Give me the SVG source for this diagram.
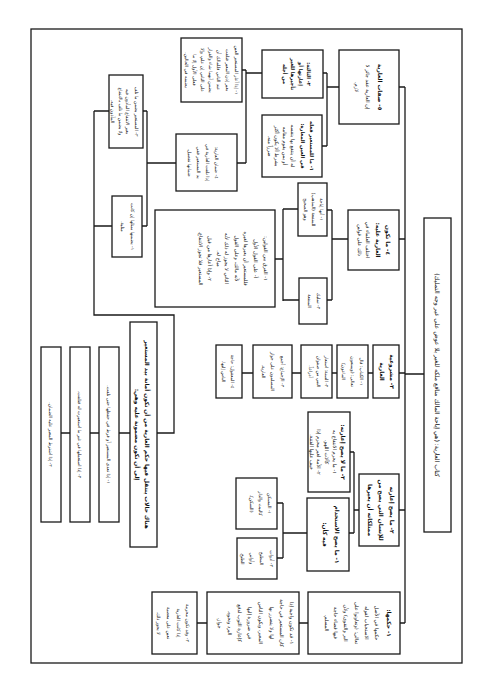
<svg xmlns="http://www.w3.org/2000/svg" width="491" height="694" viewBox="0 0 491 694">
<style>
.bx{fill:#fff;stroke:#1a1a1a;stroke-width:1.3}
.ln{fill:none;stroke:#1a1a1a;stroke-width:1.3}
text{font-family:"DejaVu Sans",sans-serif;font-size:5px;fill:#111;text-anchor:middle;dominant-baseline:central;direction:rtl}
.b{font-weight:bold;font-size:5.8px}
.ti{font-size:6.2px}
.s{font-size:4.6px}
.bs{font-weight:bold;font-size:5.1px}
</style>
<rect width="491" height="694" fill="#fff"/>
<rect x="31" y="29" width="431" height="634" fill="none" stroke="#1a1a1a" stroke-width="1.3"/>

<g id="connectors" class="ln">
<path d="M424 374H405M405 87V623M405 87H399M405 239H399M405 373H399M405 510H399M405 623H400"/>
<path d="M339 87H327M327 73V146M327 73H323M327 146H322"/>
<path d="M262 73H246M246 70V163M246 70H242M246 163H237"/>
<path d="M176 163H147M147 111V226M147 111H143M147 226H142"/>
<path d="M109 111H94M112 226H94M94 111V315H174V433H157"/>
<path d="M348 239H332M332 210V300M332 210H327M332 300H327"/>
<path d="M298 209H283M299 300H283M283 209V301M283 259H275"/>
<path d="M373 373H368M337 373H332M301 373H292M253 373H242"/>
<path d="M359 510H354M354 452V533M354 452H350M354 533H349"/>
<path d="M307 533H283M283 503V558M283 503H277M283 558H277"/>
<path d="M308 623H299M207 623H197"/>
<path d="M130 433H119M99 433H90M70 433H61"/>
</g>

<g id="title">
<rect class="bx" x="424" y="218" width="27" height="314"/>
<text class="ti" transform="translate(437.5 375) rotate(90)"><tspan x="0" y="0">كتاب العارية: (هي إباحة المالك منافع ملكه للغير بلا عوض على غير وجه التمليك)</tspan></text>
</g>

<g id="n5">
<rect class="bx" x="339" y="50" width="60" height="74"/>
<text transform="translate(369 87) rotate(90)"><tspan class="b" x="0" y="-11">٥- صفات العارية</tspan><tspan x="0" y="1">إن العارية عقد جائز لا</tspan><tspan x="0" y="12">لازم.</tspan></text>
</g>
<g id="n5a">
<rect class="bx" x="262" y="50" width="61" height="48"/>
<text class="bs" transform="translate(292.5 74) rotate(90)"><tspan x="0" y="-16.5">٢- الثالثة:</tspan><tspan x="0" y="-8.5">إعارتها أو</tspan><tspan x="0" y="-0.5">تأجيرها للغير</tspan><tspan x="0" y="7.5">من أجله</tspan></text>
</g>
<g id="n5b">
<rect class="bx" x="262" y="115" width="60" height="62"/>
<text transform="translate(292 146) rotate(90)"><tspan class="bs" x="0" y="-20">١- ما للمستعير فعله</tspan><tspan class="bs" x="0" y="-11">في العين المعارة:</tspan><tspan x="0" y="-1">له أن ينتفع بها بنفسه</tspan><tspan x="0" y="7">أو بمن يقوم مقامه</tspan><tspan x="0" y="15">بشرط ألا يكون أكثر</tspan><tspan x="0" y="22">ضرراً منه.</tspan></text>
</g>
<g id="nA">
<rect class="bx" x="181" y="38" width="61" height="64"/>
<text class="s" transform="translate(211.5 70) rotate(90)"><tspan x="0" y="-25.5">١- إذا أعار المستعير العين</tspan><tspan x="0" y="-16.5">بغير إذن المعير فتلفت</tspan><tspan x="0" y="-7.5">عند الثاني فللمالك أن</tspan><tspan x="0" y="0.5">يضمن أيهما شاء والقرار</tspan><tspan x="0" y="8.5">على الثاني إن علم، وإلا</tspan><tspan x="0" y="16.5">فعلى الأول إلا ما</tspan><tspan x="0" y="24.5">يضمنه في الحالين.</tspan></text>
</g>
<g id="nB">
<rect class="bx" x="176" y="134" width="61" height="57"/>
<text class="s" transform="translate(206.5 162.5) rotate(90)"><tspan x="0" y="-10.5">٤- ضمان العارية:</tspan><tspan x="0" y="-1.5">إذا تلفت العارية في</tspan><tspan x="0" y="7.5">يد المستعير ففي</tspan><tspan x="0" y="16.5">ضمانها تفصيل.</tspan></text>
</g>
<g id="nC">
<rect class="bx" x="109" y="75" width="34" height="73"/>
<text class="s" transform="translate(126 111.5) rotate(90)"><tspan x="0" y="-11">٣- المستعير يضمن ما تلف</tspan><tspan x="0" y="-2">بغير الانتفاع المأذون فيه</tspan><tspan x="0" y="5">ولا يضمن ما تلف بالانتفاع</tspan><tspan x="0" y="13">المأذون فيه.</tspan></text>
</g>
<g id="nD">
<rect class="bx" x="112" y="196" width="30" height="61"/>
<text class="s" transform="translate(127 226.5) rotate(90)"><tspan x="0" y="-6">١- يضمنها بمثلها إن كانت</tspan><tspan x="0" y="4">مثلية.</tspan></text>
</g>

<g id="n4">
<rect class="bx" x="348" y="210" width="51" height="60"/>
<text transform="translate(373.5 240) rotate(90)"><tspan class="b" x="0" y="-14.5">٤- ما تكون</tspan><tspan class="b" x="0" y="-4.5">العارية عليه:</tspan><tspan x="0" y="5.5">اختلف العلماء في</tspan><tspan x="0" y="13.5">ذلك على قولين</tspan></text>
</g>
<g id="n4a">
<rect class="bx" x="298" y="183" width="29" height="53"/>
<text class="s" transform="translate(312.5 209.5) rotate(90)"><tspan x="0" y="-9.5">١- أنها إباحة</tspan><tspan x="0" y="-1.5">للمنفعة (المذهب)</tspan><tspan x="0" y="6.5">وهو الصحيح</tspan></text>
</g>
<g id="n4b">
<rect class="bx" x="299" y="278" width="28" height="46"/>
<text class="s" transform="translate(313 301) rotate(90)"><tspan x="0" y="-6">٢- تمليك</tspan><tspan x="0" y="3">المنفعة</tspan></text>
</g>
<g id="n4c">
<rect class="bx" x="155" y="210" width="120" height="97"/>
<text transform="translate(215 258.5) rotate(90)"><tspan x="0" y="-51">١- الفرق بين القولين:</tspan><tspan x="0" y="-41">أ- على القول الأول</tspan><tspan x="0" y="-31">فللمستعير أن يعيرها لغيره</tspan><tspan x="0" y="-22">لأنه مالك، وعلى القول</tspan><tspan x="0" y="-12">الثاني لا يجوز له ذلك لأنه</tspan><tspan x="0" y="-4">مباح له.</tspan><tspan x="0" y="5">٢- وإذا أعارها من قبل</tspan><tspan x="0" y="14">المستعير فلا تجوز الانتفاع.</tspan></text>
</g>

<g id="n3">
<rect class="bx" x="373" y="345" width="26" height="53"/>
<text class="b" transform="translate(386 371.5) rotate(90)"><tspan x="0" y="-6">٣- مشروعية</tspan><tspan x="0" y="4">العارية</tspan></text>
</g>
<g id="n3a">
<rect class="bx" x="337" y="345" width="31" height="53"/>
<text class="s" transform="translate(352.5 371.5) rotate(90)"><tspan x="0" y="-9.5">١- الكتاب: قال</tspan><tspan x="0" y="-0.5">تعالى: (ويمنعون</tspan><tspan x="0" y="8.5">الماعون)</tspan></text>
</g>
<g id="n3b">
<rect class="bx" x="301" y="345" width="31" height="53"/>
<text class="s" transform="translate(316.5 371.5) rotate(90)"><tspan x="0" y="-10.5">٢- السنة: استعار</tspan><tspan x="0" y="-2.5">النبي من صفوان</tspan><tspan x="0" y="5.5">أدراعاً.</tspan></text>
</g>
<g id="n3c">
<rect class="bx" x="253" y="345" width="39" height="53"/>
<text class="s" transform="translate(272.5 371.5) rotate(90)"><tspan x="0" y="-10.5">٣- الإجماع: أجمع</tspan><tspan x="0" y="-0.5">المسلمون على جواز</tspan><tspan x="0" y="8.5">العارية.</tspan></text>
</g>
<g id="n3d">
<rect class="bx" x="216" y="345" width="26" height="53"/>
<text class="s" transform="translate(229 371.5) rotate(90)"><tspan x="0" y="-4">٤- المعقول: حاجة</tspan><tspan x="0" y="5">الناس إليها.</tspan></text>
</g>

<g id="n2">
<rect class="bx" x="359" y="474" width="40" height="72"/>
<text class="b" transform="translate(379 510) rotate(90)"><tspan x="0" y="-13">٢- ما يصح إعارته</tspan><tspan x="0" y="-2">للإنسان التي يصح من</tspan><tspan x="0" y="9">ممتلكاته أن يعيرها</tspan></text>
</g>
<g id="n2a">
<rect class="bx" x="308" y="412" width="42" height="80"/>
<text transform="translate(329 452) rotate(90)"><tspan class="b" x="0" y="-14">٢- ما لا يصح إعارته:</tspan><tspan x="0" y="-6">١- ما يحرم الانتفاع به</tspan><tspan x="0" y="2">كآلات اللهو.</tspan><tspan x="0" y="10">٢- الأمة لغير محرم إذا</tspan><tspan x="0" y="17">خيف عليها الفتنة.</tspan></text>
</g>
<g id="n2b">
<rect class="bx" x="307" y="498" width="42" height="73"/>
<text class="b" transform="translate(328 534.5) rotate(90)"><tspan x="0" y="-9">١- ما يصح الاستخدام</tspan><tspan x="0" y="3">فيه كأن:</tspan></text>
</g>
<g id="n2c">
<rect class="bx" x="236" y="478" width="41" height="51"/>
<text class="s" transform="translate(256.5 503.5) rotate(90)"><tspan x="0" y="-13.5">١- المسكن</tspan><tspan x="0" y="-4.5">كالبيت والدار</tspan><tspan x="0" y="4.5">(السكن).</tspan></text>
</g>
<g id="n2d">
<rect class="bx" x="237" y="538" width="40" height="41"/>
<text class="s" transform="translate(257 558.5) rotate(90)"><tspan x="0" y="-15">٢- أدوات</tspan><tspan x="0" y="-5">المطبخ</tspan><tspan x="0" y="5">وأواني</tspan><tspan x="0" y="14">الطبخ.</tspan></text>
</g>

<g id="n1">
<rect class="bx" x="308" y="592" width="92" height="62"/>
<text transform="translate(354 623) rotate(90)"><tspan class="b" x="0" y="-35">١- حكمها:</tspan><tspan x="0" y="-23">حكمها في الأصل</tspan><tspan x="0" y="-13">الاستحباب لقوله</tspan><tspan x="0" y="-3">تعالى: (وتعاونوا على</tspan><tspan x="0" y="8">البر والتقوى) ولأن</tspan><tspan x="0" y="18">فيها قضاء حاجة</tspan><tspan x="0" y="27">المسلم.</tspan></text>
</g>
<g id="n1a">
<rect class="bx" x="207" y="592" width="92" height="62"/>
<text transform="translate(253 623) rotate(90)"><tspan x="0" y="-39">١- قد تكون واجبة إذا</tspan><tspan x="0" y="-29">كان المستعير في حاجة</tspan><tspan x="0" y="-19">لها ولا يتضرر بها</tspan><tspan x="0" y="-8">المعير، ويكون الناس</tspan><tspan x="0" y="3">في ضرورة إليها</tspan><tspan x="0" y="13">كإعارة الثوب لدفع</tspan><tspan x="0" y="23">البرد ونحوه.</tspan><tspan x="0" y="33">جواز.</tspan></text>
</g>
<g id="n1b">
<rect class="bx" x="152" y="592" width="45" height="62"/>
<text class="s" transform="translate(174.5 623) rotate(90)"><tspan x="0" y="-13.5">٢- وقد تكون محرمة</tspan><tspan x="0" y="-4.5">إذا كانت العارية</tspan><tspan x="0" y="5.5">تعين على معصية</tspan><tspan x="0" y="15.5">لا يجوز ذلك.</tspan></text>
</g>

<g id="n6">
<rect class="bx" x="130" y="322" width="27" height="225"/>
<text class="b" transform="translate(143.5 434.5) rotate(90)"><tspan x="0" y="-3.5">هناك حالات ينتقل فيها حكم العارية من أن تكون أمانة بيد المستعير</tspan><tspan x="0" y="6.5">إلى أن تكون مضمونة عليه وهي:</tspan></text>
</g>
<g id="n6a">
<rect class="bx" x="99" y="347" width="20" height="175"/>
<text class="s" transform="translate(109 434.5) rotate(90)"><tspan x="0" y="0">١- إذا تعدى المستعير أو فرط في حفظها حتى تلفت.</tspan></text>
</g>
<g id="n6b">
<rect class="bx" x="70" y="347" width="20" height="175"/>
<text class="s" transform="translate(80 434.5) rotate(90)"><tspan x="0" y="0">٢- إذا استعملها في غير ما استعيرت له فتلفت.</tspan></text>
</g>
<g id="n6c">
<rect class="bx" x="41" y="347" width="20" height="175"/>
<text class="s" transform="translate(51 434.5) rotate(90)"><tspan x="0" y="0">٣- إذا اشترط المعير عليه الضمان.</tspan></text>
</g>
</svg>
